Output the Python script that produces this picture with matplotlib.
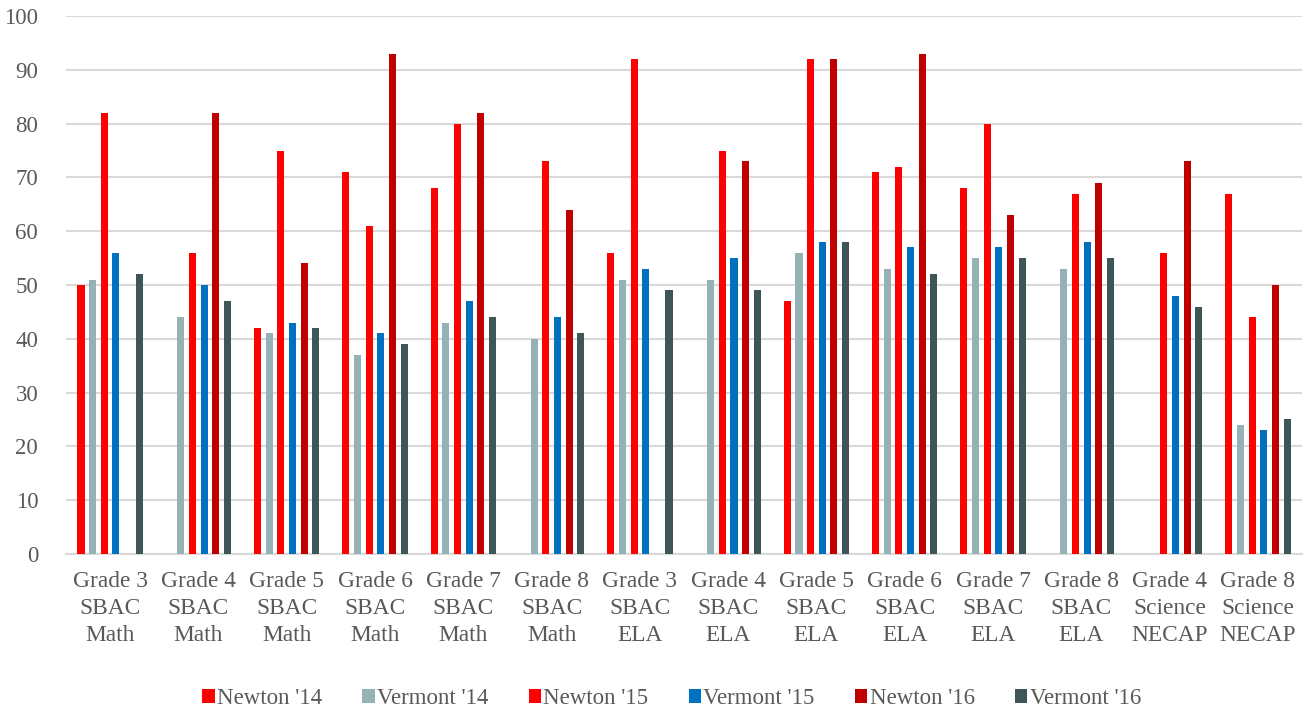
import numpy as np
import matplotlib.pyplot as plt

categories = [
    "Grade 3\nSBAC\nMath", "Grade 4\nSBAC\nMath", "Grade 5\nSBAC\nMath",
    "Grade 6\nSBAC\nMath", "Grade 7\nSBAC\nMath", "Grade 8\nSBAC\nMath",
    "Grade 3\nSBAC\nELA", "Grade 4\nSBAC\nELA", "Grade 5\nSBAC\nELA",
    "Grade 6\nSBAC\nELA", "Grade 7\nSBAC\nELA", "Grade 8\nSBAC\nELA",
    "Grade 4\nScience\nNECAP", "Grade 8\nScience\nNECAP",
]

newton_14 = [50, None, 42, 71, 68, None, 56, None, 47, 71, 68, None, None, 67]
vermont_14 = [51, 44, 41, 37, 43, 40, 51, 51, 56, 53, 55, 53, None, 24]
newton_15 = [82, 56, 75, 61, 80, 73, 92, 75, 92, 72, 80, 67, 56, 44]
vermont_15 = [56, 50, 43, 41, 47, 44, 53, 55, 58, 57, 57, 58, 48, 23]
newton_16 = [None, 82, 54, 93, 82, 64, None, 73, 92, 93, 63, 69, 73, 50]
vermont_16 = [52, 47, 42, 39, 44, 41, 49, 49, 58, 52, 55, 55, 46, 25]

series = [
    ("Newton '14", newton_14, "#FF0000"),
    ("Vermont '14", vermont_14, "#95B3B7"),
    ("Newton '15", newton_15, "#FF0000"),
    ("Vermont '15", vermont_15, "#0070C0"),
    ("Newton '16", newton_16, "#C00000"),
    ("Vermont '16", vermont_16, "#3F5659"),
]

plt.rcParams['font.family'] = ['Liberation Serif', 'DejaVu Serif']
text_color = "#595959"

fig = plt.figure(figsize=(13.09, 7.15), dpi=100)
ax = fig.add_axes([0.0504, 0.2252, 0.9443, 0.7524])

x = np.arange(len(categories))
step = 0.132
width = 0.08
for i, (name, vals, color) in enumerate(series):
    v = np.array([np.nan if a is None else a for a in vals], dtype=float)
    ax.bar(x + (i - 2.5) * step, v, width, color=color, label=name, zorder=3)

ax.set_xlim(-0.5, len(categories) - 0.5)
ax.set_ylim(0, 100)
ax.set_yticks(range(0, 101, 10))
ax.set_xticks(x)
ax.set_xticklabels(categories, linespacing=1.38)
ax.tick_params(axis='y', length=0, pad=20, labelsize=16.5, labelcolor=text_color)
ax.tick_params(axis='x', length=0, pad=12, labelsize=16.8, labelcolor=text_color)
ax.grid(axis='y', color="#D9D9D9", linewidth=1.5, zorder=0)
for s in ["top", "right", "left"]:
    ax.spines[s].set_visible(False)
ax.spines["bottom"].set_color("#D9D9D9")
ax.spines["bottom"].set_linewidth(1.5)

leg = fig.legend(loc="center", bbox_to_anchor=(0.513, 0.023), ncol=6, frameon=False,
                 fontsize=16.5, handlelength=0.55, handleheight=0.55, handletextpad=0.1,
                 columnspacing=1.75, labelcolor=text_color)

fig.savefig("out.png", dpi=100)
